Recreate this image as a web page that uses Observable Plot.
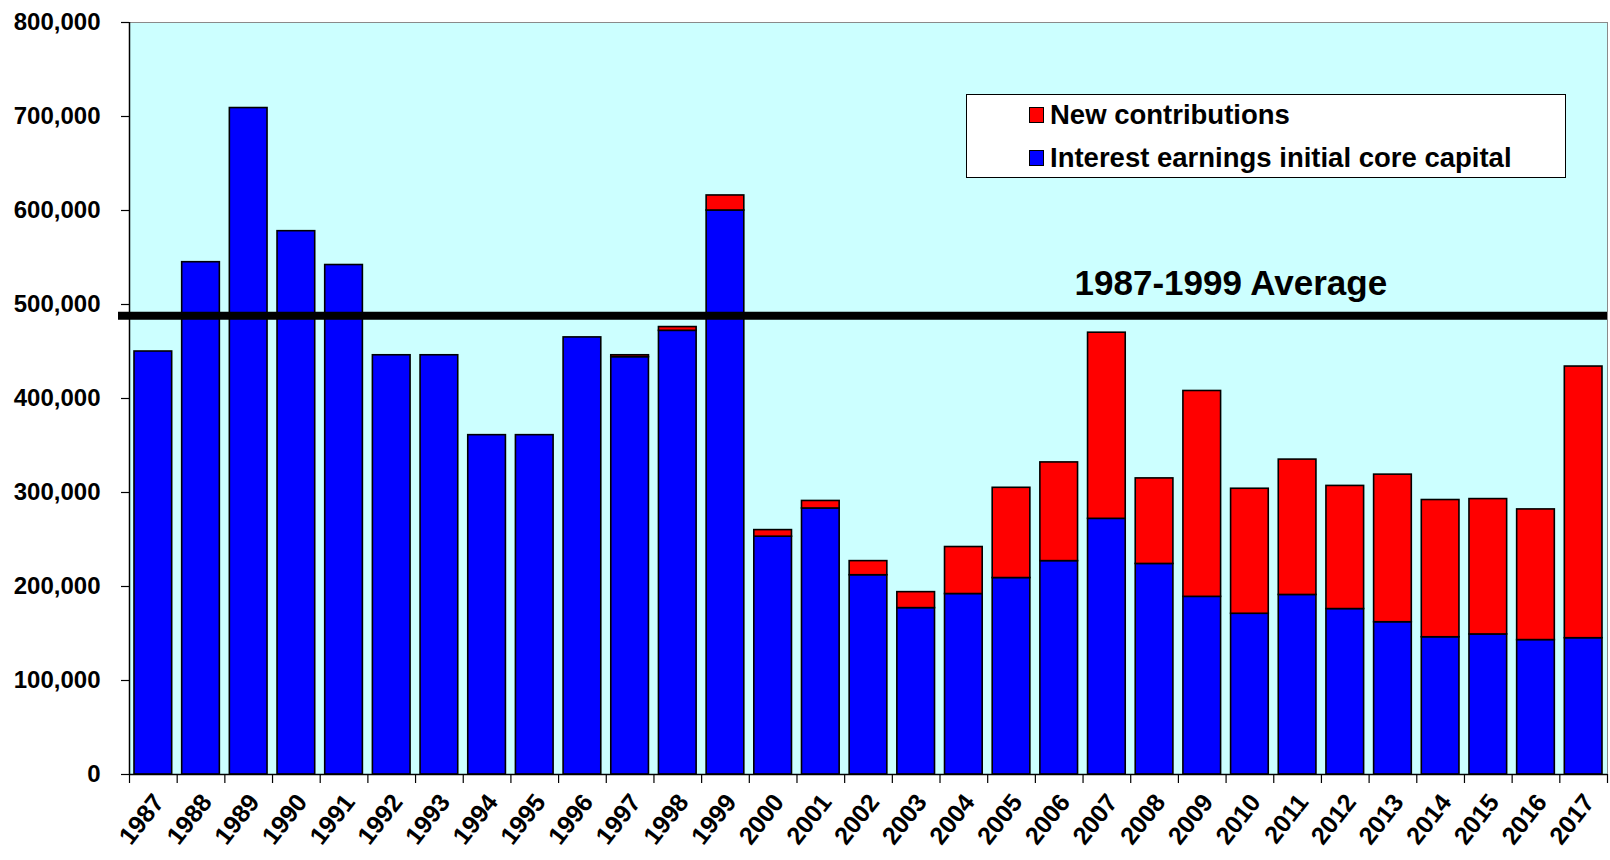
<!DOCTYPE html>
<html><head><meta charset="utf-8">
<script src="https://cdn.jsdelivr.net/npm/d3@7"></script>
<script src="https://cdn.jsdelivr.net/npm/@observablehq/plot@0.6"></script>
<style>
body{margin:0;background:#fff;font-family:"Liberation Sans",Arial,sans-serif;}
#wrap{position:relative;width:1610px;height:860px;overflow:hidden;}
#wrap svg{position:absolute;left:0;top:0;}
.legend{position:absolute;left:966px;top:94px;width:600px;height:84px;box-sizing:border-box;border:1.5px solid #000;background:#fff;font-weight:bold;font-size:27.5px;color:#000;}
.item{position:absolute;left:62px;display:flex;align-items:center;height:30px;line-height:30px;white-space:nowrap;}
.sw{width:15px;height:16px;border:1px solid #000;box-sizing:border-box;margin-right:6px;}
</style></head><body><div id="wrap"></div>
<script>
const years = [1987,1988,1989,1990,1991,1992,1993,1994,1995,1996,1997,1998,1999,2000,2001,2002,2003,2004,2005,2006,2007,2008,2009,2010,2011,2012,2013,2014,2015,2016,2017];
const interest = [450000,545000,709000,578000,542000,446000,446000,361000,361000,465000,444000,472000,600000,253000,283000,212000,177000,192000,209000,227000,272000,224000,189000,171000,191000,176000,162000,146000,149000,143000,145000];
const contributions = [0,0,0,0,0,0,0,0,0,0,2000,4000,16000,7000,8000,15000,17000,50000,96000,105000,198000,91000,219000,133000,144000,131000,157000,146000,144000,139000,289000];
const seriesNames = ["Interest earnings initial core capital","New contributions"];
const seriesColors = ["#0000FF","#FF0000"];
const legendOrder = ["New contributions","Interest earnings initial core capital"];
const yTicks = [0,100000,200000,300000,400000,500000,600000,700000,800000];
const averageValue = 488000;
const averageLabel = "1987-1999 Average";
const averageLabelX = 2009.6;

const rows = [];
years.forEach((y, i) => {
  rows.push({year: y, series: seriesNames[0], value: interest[i]});
  if (contributions[i] > 0) rows.push({year: y, series: seriesNames[1], value: contributions[i]});
});
const boundaries = years.map(y => y - 0.5).concat([years[years.length - 1] + 0.5]);

const chart = Plot.plot({
  width: 1610,
  height: 860,
  marginLeft: 129,
  marginRight: 3,
  marginTop: 22,
  marginBottom: 86,
  style: {fontFamily: "'Liberation Sans', Arial, sans-serif", background: "transparent", color: "#000"},
  x: {type: "linear", domain: [years[0] - 0.5, years[years.length - 1] + 0.5], axis: null, label: null},
  y: {domain: [0, 800000], axis: null, label: null},
  color: {domain: seriesNames, range: seriesColors},
  marks: [
    Plot.frame({fill: "#CCFFFF", stroke: "#8a8a8a", strokeWidth: 1}),
    Plot.rectY(rows, Plot.stackY({
      x: "year",
      x1: d => d.year - 0.5,
      x2: d => d.year + 0.5,
      y: "value",
      fill: "series",
      stroke: "#000",
      strokeWidth: 1.6,
      insetLeft: 5,
      insetRight: 5
    })),
    Plot.ruleY([averageValue], {stroke: "#000", strokeWidth: 8, insetLeft: -11}),
    Plot.text([averageLabel], {
      x: () => averageLabelX, y: () => averageValue, text: d => d,
      dy: -32, fontSize: 35, fontWeight: "bold", fill: "#000", textAnchor: "middle", lineAnchor: "middle"
    }),
    Plot.ruleX([years[0] - 0.5], {stroke: "#000", strokeWidth: 1.5}),
    Plot.ruleY([0], {stroke: "#000", strokeWidth: 1.5}),
    Plot.axisY({ticks: yTicks, tickFormat: d3.format(","), tickSize: 8, tickPadding: 21, fontSize: 24, fontWeight: "bold", stroke: "#000", strokeWidth: 1.2, label: null}),
    Plot.axisX({ticks: boundaries, tickSize: 9, tickFormat: () => "", stroke: "#000", strokeWidth: 1.2, label: null}),
    Plot.text(years, {
      x: d => d, frameAnchor: "bottom", text: d => String(d),
      rotate: -52, textAnchor: "end", lineAnchor: "top", dx: -2, dy: 17,
      fontSize: 25, fontWeight: "bold", fill: "#000"
    })
  ]
});

const wrap = document.getElementById("wrap");
wrap.appendChild(chart);

const legend = document.createElement("div");
legend.className = "legend";
const rowCenters = [20, 63];
legendOrder.forEach((name, i) => {
  const item = document.createElement("div");
  item.className = "item";
  item.style.top = (rowCenters[i] - 15) + "px";
  const sw = document.createElement("div");
  sw.className = "sw";
  sw.style.background = seriesColors[seriesNames.indexOf(name)];
  const label = document.createElement("span");
  label.textContent = name;
  item.appendChild(sw);
  item.appendChild(label);
  legend.appendChild(item);
});
wrap.appendChild(legend);
</script>
</body></html>
